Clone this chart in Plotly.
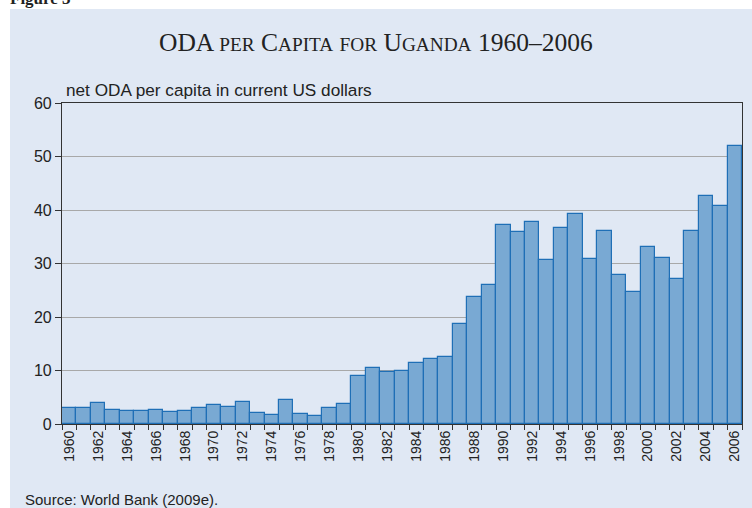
import plotly.graph_objects as go

years = list(range(1960, 2007))
oda_per_capita = [
    3.0, 3.0, 3.9, 2.6, 2.45, 2.4, 2.6, 2.3, 2.5, 3.0,
    3.5, 3.25, 4.1, 2.1, 1.7, 4.4, 1.9, 1.45, 2.95, 3.75,
    9.0, 10.4, 9.8, 9.9, 11.4, 12.1, 12.5, 18.75, 23.7, 26.0,
    37.2, 35.9, 37.75, 30.7, 36.6, 39.25, 30.75, 36.05, 27.9, 24.6,
    33.1, 31.05, 27.05, 36.0, 42.7, 40.7, 52.0,
]
tick_years = list(range(1960, 2007, 2))
y_ticks = [0, 10, 20, 30, 40, 50, 60]

W, H = 752, 508
L, R, T, B = 62, 10, 103, 84
pw, ph = W - L - R, H - T - B

def px(x):
    return (x - L) / pw

def py(y):
    return (H - B - y) / ph

fig = go.Figure()
fig.add_trace(go.Bar(
    x=years, y=oda_per_capita, width=1.0,
    marker=dict(color="#79a9d3", line=dict(color="#1f6fb6", width=1.2)),
))

fig.add_shape(type="rect", xref="paper", yref="paper",
              x0=px(10), x1=px(752), y0=py(508), y1=py(9),
              fillcolor="#e0e8f4", line=dict(width=0), layer="below")

fig.update_layout(
    width=W, height=H,
    margin=dict(l=L, r=R, t=T, b=B),
    paper_bgcolor="white", plot_bgcolor="white",
    showlegend=False, bargap=0,
    font=dict(family="Liberation Sans, Arial", color="#222"),
    xaxis=dict(
        range=[1959.5, 2006.5], tickvals=tick_years, ticktext=[str(y) for y in tick_years],
        tickangle=-90, tickfont=dict(size=14, color="#222"),
        ticks="", showgrid=False, showline=True, linecolor="#333", linewidth=1.2,
        mirror=True, zeroline=False,
        minor=dict(ticks="outside", tick0=1959.5, dtick=1, ticklen=5, tickcolor="#333", showgrid=False),
    ),
    yaxis=dict(
        range=[0, 60], tickvals=y_ticks, tickfont=dict(size=16, color="#222"),
        ticks="outside", ticklen=6, tickcolor="#333",
        showgrid=True, gridcolor="#a8a8a8", gridwidth=1,
        showline=True, linecolor="#333", linewidth=1.2, mirror=True, zeroline=False,
    ),
    annotations=[
        dict(xref="paper", yref="paper", x=px(376), y=py(42), xanchor="center", yanchor="middle",
             showarrow=False,
             text=("ODA <span style='font-size:19.3px'>PER</span> C<span style='font-size:19.3px'>APITA</span> "
                   "<span style='font-size:19.3px'>FOR</span> U<span style='font-size:19.3px'>GANDA</span> 1960–2006"),
             font=dict(family="Liberation Serif, Times New Roman", size=25.5, color="#222")),
        dict(xref="paper", yref="paper", x=px(64), y=py(90), xanchor="left", yanchor="middle",
             showarrow=False, text="net ODA per capita in current US dollars",
             font=dict(size=17.2, color="#222")),
        dict(xref="paper", yref="paper", x=px(23), y=py(499), xanchor="left", yanchor="middle",
             showarrow=False, text="Source: World Bank (2009e).",
             font=dict(size=15, color="#222")),
        dict(xref="paper", yref="paper", x=px(8), y=py(10), xanchor="left", yanchor="bottom",
             showarrow=False, text="<b>Figure 3</b>",
             font=dict(family="Liberation Serif, Times New Roman", size=17, color="#222")),
    ],
)

fig.write_html("out.html", config={"displayModeBar": False},
               post_script="document.body.style.margin='0';document.body.style.overflow='hidden';")
